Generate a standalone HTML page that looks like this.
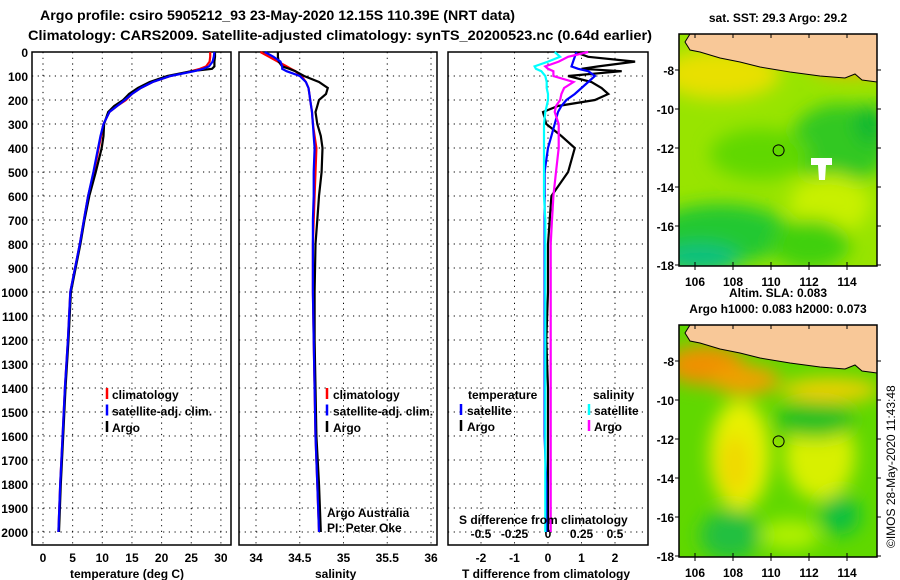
<!DOCTYPE html>
<html><head><meta charset="utf-8"><style>
body{margin:0;background:#fff;}
svg{display:block;font-family:"Liberation Sans",sans-serif;}
.t{font-weight:bold;font-size:12px;fill:#000;}
.h{font-weight:bold;font-size:14px;fill:#000;}
</style></head><body>
<svg id="c" width="900" height="580" viewBox="0 0 900 580">
<text class="h" x="40" y="20" textLength="475" lengthAdjust="spacingAndGlyphs">Argo profile: csiro 5905212_93 23-May-2020 12.15S 110.39E (NRT data)</text>
<text class="h" x="28" y="40" textLength="624" lengthAdjust="spacingAndGlyphs">Climatology: CARS2009. Satellite-adjusted climatology: synTS_20200523.nc (0.64d earlier)</text>
<g id="plots"></g>
<g id="maps"></g>
</svg>
<script>
const depths=[0,20,40,60,70,80,100,125,150,175,200,225,250,300,350,400,500,600,700,800,1000,1200,1400,1600,1800,2000];
const depthTicks=[0,100,200,300,400,500,600,700,800,900,1000,1100,1200,1300,1400,1500,1600,1700,1800,1900,2000];
const tClim=[28.2,28.2,28.1,27.5,26.5,25,21.5,18.5,16.5,15,14,12.5,11.2,10.2,9.8,9.4,8.6,7.6,6.9,6.2,4.6,4.2,3.7,3.3,2.9,2.6];
const tSat=[28.9,28.8,28.6,28,27,25.5,21.5,18.5,16.5,15,13.8,12.5,11.2,10.2,9.7,9.3,8.5,7.6,6.9,6.2,4.6,4.2,3.7,3.3,2.9,2.6];
const tArgo=[29,29,28.9,28.9,28.5,25,21,18,16,14.5,13.5,12,11,10.3,10.2,9.9,8.9,7.8,7,6.3,4.7,4.3,3.8,3.4,3.0,2.7];
const sClim=[34.05,34.15,34.25,34.35,34.4,34.45,34.52,34.57,34.6,34.61,34.62,34.63,34.64,34.65,34.67,34.69,34.68,34.67,34.66,34.65,34.65,34.66,34.67,34.68,34.7,34.72];
const sSat=[34.1,34.2,34.28,34.3,34.3,34.35,34.5,34.57,34.6,34.61,34.62,34.63,34.64,34.65,34.66,34.67,34.66,34.66,34.65,34.65,34.65,34.66,34.67,34.68,34.7,34.72];
const sArgo=[34.25,34.25,34.26,34.3,34.38,34.45,34.55,34.72,34.82,34.8,34.72,34.7,34.68,34.7,34.74,34.76,34.75,34.72,34.7,34.68,34.67,34.67,34.68,34.69,34.72,34.74];
const tDiffArgo=[0.8,1.2,2.6,1.5,1.0,2.2,0.6,1.3,1.6,1.8,1.4,0.3,-0.15,-0.05,0.4,0.8,0.6,0.1,0.05,0,0,-0.05,0,0,0,0];
const tDiffSat=[0.85,0.8,0.75,0.7,0.9,1.2,1.4,1.2,1.0,0.8,0.55,0.4,0.3,0.2,0.1,0,-0.1,-0.1,-0.1,-0.1,-0.1,-0.1,-0.1,-0.1,-0.05,-0.05];
const sDiffArgo=[0.3,0.15,0.08,-0.02,0,0.04,0.04,0.19,0.12,0.1,0.09,0.06,0.05,0.08,0.08,0.08,0.06,0.04,0.03,0.02,0.02,0.02,0.02,0.02,0.02,0.02];
const sDiffSat=[0.05,0.09,0.0,-0.1,-0.09,-0.05,-0.02,-0.01,-0.01,0,0,-0.01,-0.02,-0.03,-0.03,-0.03,-0.03,-0.03,-0.02,-0.02,-0.02,-0.02,-0.02,-0.02,-0.02,-0.02];
const tTicks=[0,5,10,15,20,25,30];
const sTicks=[34,34.5,35,35.5,36];
const tdTicks=[-2,-1,0,1,2];
const sdTicks=[-0.5,-0.25,0,0.25,0.5];
const latTicks=[-8,-10,-12,-14,-16,-18];
const lonTicks=[106,108,110,112,114];

const NS="http://www.w3.org/2000/svg";
const plots=document.getElementById('plots');
function mk(tag,attrs,parent){const e=document.createElementNS(NS,tag);for(const k in attrs)e.setAttribute(k,attrs[k]);(parent||plots).appendChild(e);return e;}
const yD=d=>52+0.24*d;
const PT=52,PB=545;
const xT=v=>43+5.93*v, xS=v=>256+87.5*(v-34), xTD=v=>548+33.5*v, xSD=v=>548+134*v;

function panel(name,x0,x1,xs,ticks,fmt){
  const g=mk('g',{});
  
  
  ticks.forEach(v=>{const l=mk('line',{x1:xs(v),x2:xs(v),y1:PT,y2:PB,stroke:'#000','stroke-dasharray':'1.2 4.5','stroke-width':1},g);
    });
  depthTicks.forEach(d=>{const l=mk('line',{x1:x0,x2:x1,y1:yD(d),y2:yD(d),stroke:'#000','stroke-dasharray':'1.2 4.5'},g);
    });
  const r=mk('rect',{x:x0,y:PT,width:x1-x0,height:PB-PT,fill:'none',stroke:'#000','stroke-width':1.5},g);
  
  if(fmt){ticks.forEach(v=>{const t=mk('text',{x:xs(v),y:562,'text-anchor':'middle',class:'t'},g);t.textContent=fmt(v);
    });}
  return g;
}
function line(xs,vals,color,name,w){
  const pts=depths.map((d,i)=>xs(vals[i]).toFixed(1)+','+yD(d).toFixed(1)).join(' ');
  const p=mk('polyline',{points:pts,fill:'none',stroke:color,'stroke-width':w||2.2});
  
}
function txt(x,y,s,name,cls,extra){const t=mk('text',Object.assign({x:x,y:y,class:cls||'t'},extra||{}));t.textContent=s;
  return t;}
function mark(x,y,c){const l=mk('line',{x1:x,x2:x,y1:y-11,y2:y,stroke:c,'stroke-width':2.5});
  }

panel('temperature-panel',32,231,xT,tTicks,v=>String(v));
panel('salinity-panel',239,437,xS,sTicks,v=>String(v));
panel('difference-panel',448,648,xTD,tdTicks,v=>String(v));
depthTicks.forEach(d=>txt(28,yD(d)+5,String(d),'depth-tick-label','t',{'text-anchor':'end'}));
sdTicks.forEach(v=>txt(xSD(v),538,String(v),'s-diff-tick-label','t',{'text-anchor':'middle'}));

line(xT,tClim,'#f00','temp-climatology-line');
line(xT,tArgo,'#000','temp-argo-line');
line(xT,tSat,'#00f','temp-satellite-line');
line(xS,sClim,'#f00','sal-climatology-line');
line(xS,sArgo,'#000','sal-argo-line');
line(xS,sSat,'#00f','sal-satellite-line');
line(xTD,tDiffArgo,'#000','tdiff-argo-line');
line(xTD,tDiffSat,'#00f','tdiff-satellite-line');
line(xSD,sDiffArgo,'#f0f','sdiff-argo-line');
line(xSD,sDiffSat,'#0ff','sdiff-satellite-line');

txt(70,578,'temperature (deg C)','temperature-axis-title');
txt(315,578,'salinity','salinity-axis-title');
txt(462,578,'T difference from climatology','t-diff-axis-title');
txt(459,524,'S difference from climatology','s-diff-title');
[['climatology','#f00'],['satellite-adj. clim.','#00f'],['Argo','#000']].forEach((e,i)=>{
  mark(107,399+i*16.5,e[1]);txt(112,399+i*16.5,e[0],'legend-entry');
  mark(327,399+i*16.5,e[1]);txt(333,399+i*16.5,e[0],'legend-entry');
});
txt(468,399,'temperature','legend-title');txt(593,399,'salinity','legend-title');
mark(461,415,'#00f');txt(467,415,'satellite','legend-entry');
mark(461,431,'#000');txt(467,431,'Argo','legend-entry');
mark(589,415,'#0ff');txt(594,415,'satellite','legend-entry');
mark(589,431,'#f0f');txt(594,431,'Argo','legend-entry');
txt(327,517,'Argo Australia','credit-text','',{'font-size':'12px'});
txt(327,532,'PI: Peter Oke','credit-text','',{'font-size':'12px'});

// maps
const maps=document.getElementById('maps');
function mkm(tag,attrs,parent){return mk(tag,attrs,parent||maps);}
const lonX=v=>695+19*(v-106);
function map(name,top,blobs,title,tY){
  const g=mkm('g',{});
  
  const latY=v=>top+36+19.5*(-8-v);
  const id=name+'-clip';
  const cp=mkm('clipPath',{id:id},g);mkm('rect',{x:679,y:top,width:198,height:232},cp);
  const inner=mkm('g',{'clip-path':'url(#'+id+')'},g);
  mkm('rect',{x:679,y:top,width:198,height:232,fill:blobs.base},inner);
  const fid=name+'-blur';
  const f=mkm('filter',{id:fid,x:'-50%',y:'-50%',width:'200%',height:'200%'},g);
  mkm('feGaussianBlur',{stdDeviation:9},f);
  const bg=mkm('g',{filter:'url(#'+fid+')'},inner);
  blobs.list.forEach(b=>mkm('ellipse',{cx:b[0],cy:top+b[1],rx:b[2],ry:b[3],fill:b[4]},bg));
  const pts=[[690,0],[877,0],[877,48],[862,46],[855,40],[845,44],[820,42],[790,38],[760,33],[740,28],[720,24],[700,18],[690,16],[685,8]].map(p=>p[0]+','+(top+p[1])).join(' ');
  const land=mkm('polygon',{points:pts,fill:'#f8c898',stroke:'#000','stroke-width':1},inner);
  
  if(blobs.white){const w=mkm('polygon',{points:'811,'+(top+124)+' 832,'+(top+124)+' 832,'+(top+131)+' 826,'+(top+131)+' 825,'+(top+146)+' 819,'+(top+146)+' 818,'+(top+131)+' 811,'+(top+131),fill:'#fff'},inner);
    }
  const ci=mkm('circle',{cx:lonX(110.4),cy:latY(-12.12),r:5.5,fill:'none',stroke:'#000','stroke-width':1},g);
  
  const fr=mkm('rect',{x:679,y:top,width:198,height:232,fill:'none',stroke:'#000','stroke-width':1.5},g);
  
  latTicks.forEach(v=>{mkm('line',{x1:877,x2:881,y1:latY(v),y2:latY(v),stroke:'#000'},g);
    mkm('line',{x1:675,x2:679,y1:latY(v),y2:latY(v),stroke:'#000'},g);
    const t=mkm('text',{x:674,y:latY(v)+5,'text-anchor':'end',class:'t'},g);t.textContent=String(v);
    });
  lonTicks.forEach(v=>{mkm('line',{x1:lonX(v),x2:lonX(v),y1:top,y2:top+4,stroke:'#000'},g);mkm('line',{x1:lonX(v),x2:lonX(v),y1:top+228,y2:top+236,stroke:'#000'},g);
    const t=mkm('text',{x:lonX(v),y:top+252,'text-anchor':'middle',class:'t'},g);t.textContent=String(v);
    });
  title.forEach((s,i)=>{const t=mkm('text',{x:778,y:tY[i],'text-anchor':'middle',class:'t'},g);t.textContent=s;
    });
}
map('sst-map',34,{base:'#98e400',white:true,list:[
 [720,40,60,25,'#e8e000'],[850,30,40,12,'#f0b000'],[840,110,50,40,'#30c820'],[760,120,50,25,'#60d800'],
 [830,170,40,30,'#c8f000'],[720,200,70,30,'#20c830'],[700,225,40,15,'#10c080'],[810,210,40,25,'#40d010'],[870,90,15,20,'#10b830']]},
 ['sat. SST: 29.3 Argo: 29.2'],[22]);
map('sla-map',325,{base:'#60d800',list:[
 [705,40,40,20,'#f09000'],[745,55,35,15,'#f0a000'],[830,65,50,12,'#f0d000'],[740,130,30,55,'#e8f000'],
 [820,130,35,45,'#d8f000'],[735,140,15,30,'#f0d800'],[815,95,40,18,'#20c020'],[730,210,30,25,'#20c040'],[840,190,20,20,'#10c040'],[790,210,30,15,'#b0f000']]},
 ['Altim. SLA: 0.083','Argo h1000: 0.083 h2000: 0.073'],[297,313]);
const im=mkm('text',{x:0,y:0,transform:'translate(895,548) rotate(-90)','font-size':'12px'});
im.textContent='©IMOS 28-May-2020 11:43:48';


</script>
</body></html>
